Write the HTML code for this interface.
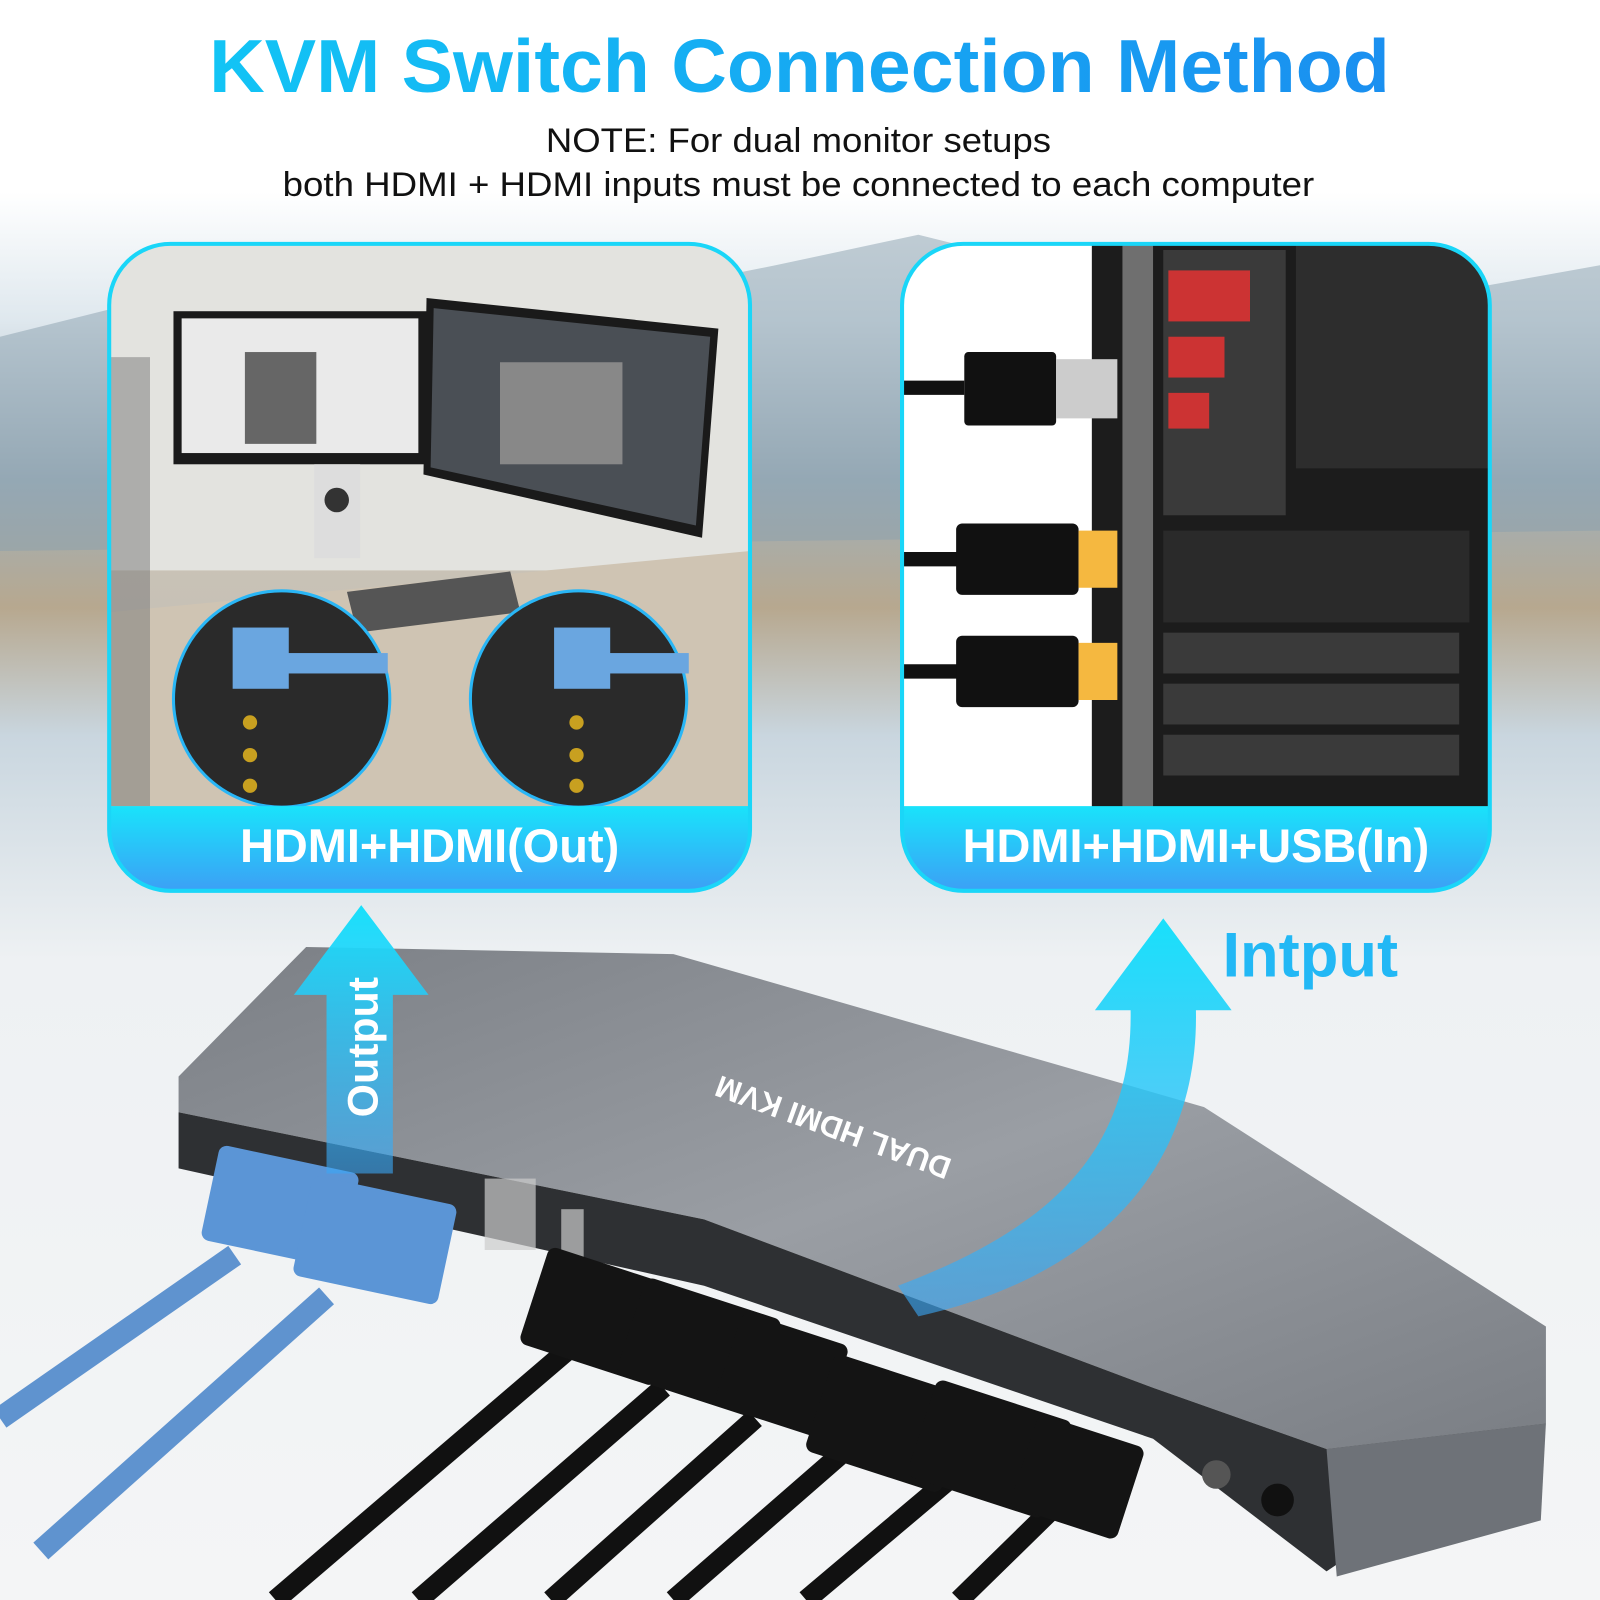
<!DOCTYPE html>
<html><head><meta charset="utf-8"><style>
html,body{margin:0;padding:0;width:1600px;height:1600px;overflow:hidden;background:#fff}
svg{display:block}
</style></head><body>
<svg width="1600" height="1600" viewBox="0 0 1568 1568" xmlns="http://www.w3.org/2000/svg" font-family="Liberation Sans, sans-serif">
<defs>
<linearGradient id="bg" x1="0" y1="0" x2="0" y2="1">
<stop offset="0" stop-color="#ffffff"/><stop offset="0.12" stop-color="#ffffff"/>
<stop offset="0.2" stop-color="#dfe8ee"/><stop offset="0.3" stop-color="#9fb0bb"/>
<stop offset="0.38" stop-color="#b7a88f"/><stop offset="0.46" stop-color="#c9d6df"/>
<stop offset="0.6" stop-color="#eef1f3"/><stop offset="1" stop-color="#f4f5f6"/></linearGradient>
<linearGradient id="tt" x1="0" y1="0" x2="1" y2="0"><stop offset="0" stop-color="#12c4f5"/><stop offset="1" stop-color="#1a8ff0"/></linearGradient>
<linearGradient id="band" x1="0" y1="0" x2="0" y2="1"><stop offset="0" stop-color="#19e3fb"/><stop offset="1" stop-color="#3f9af5"/></linearGradient>
<linearGradient id="arr" x1="0" y1="0" x2="0" y2="1"><stop offset="0" stop-color="#18e0fb"/><stop offset="1" stop-color="#3aa6f6" stop-opacity="0.6"/></linearGradient>
<linearGradient id="top" x1="0" y1="0" x2="1" y2="1"><stop offset="0" stop-color="#7b7f85"/><stop offset="0.5" stop-color="#9a9ea4"/><stop offset="1" stop-color="#7a7e84"/></linearGradient>
<linearGradient id="desk" x1="0" y1="0" x2="0" y2="1"><stop offset="0" stop-color="#dcdcd8"/><stop offset="0.5" stop-color="#c9c2b6"/><stop offset="1" stop-color="#b8b9b6"/></linearGradient>
<clipPath id="lp"><rect x="107" y="239" width="628" height="634" rx="60"/></clipPath>
<clipPath id="rp"><rect x="884" y="239" width="576" height="634" rx="60"/></clipPath>
</defs>
<rect width="1568" height="1568" fill="url(#bg)"/>
<path d="M0 330 L120 300 L260 330 L400 250 L560 300 L760 260 L900 230 L1100 280 L1250 250 L1400 290 L1568 260 L1568 520 L0 540Z" fill="#8aa0ad" opacity="0.5"/>
<text x="205" y="90" textLength="1157" lengthAdjust="spacingAndGlyphs" font-size="74" font-weight="bold" fill="url(#tt)">KVM Switch Connection Method</text>
<text x="535" y="149" textLength="495" lengthAdjust="spacingAndGlyphs" font-size="34" fill="#111">NOTE: For dual monitor setups</text>
<text x="277" y="192" textLength="1011" lengthAdjust="spacingAndGlyphs" font-size="34" fill="#111">both HDMI + HDMI inputs must be connected to each computer</text>

<!-- left panel -->
<g clip-path="url(#lp)">
<rect x="107" y="239" width="628" height="634" fill="url(#desk)"/>
<rect x="107" y="239" width="628" height="320" fill="#e3e3df"/>
<polygon points="107,600 735,540 735,790 107,790" fill="#cfc4b3"/>
<rect x="170" y="305" width="248" height="150" fill="#1a1a1a"/><rect x="178" y="312" width="232" height="132" fill="#eaeaea"/>
<rect x="240" y="345" width="70" height="90" fill="#666"/>
<polygon points="418,292 704,322 688,527 415,465" fill="#1a1a1a"/>
<polygon points="425,302 696,330 682,515 422,458" fill="#4a4f55"/>
<rect x="490" y="355" width="120" height="100" fill="#888"/>
<rect x="308" y="455" width="45" height="92" fill="#ddd"/><circle cx="330" cy="490" r="12" fill="#333"/>
<polygon points="340,580 500,560 510,600 350,620" fill="#555"/>
<rect x="107" y="350" width="40" height="440" fill="#777" opacity="0.5"/>
<circle cx="276" cy="685" r="106" fill="#2a2a2a" stroke="#29b6f6" stroke-width="3"/>
<circle cx="567" cy="685" r="106" fill="#2a2a2a" stroke="#29b6f6" stroke-width="3"/>
<rect x="228" y="615" width="55" height="60" fill="#6aa6e0"/><rect x="280" y="640" width="100" height="20" fill="#6aa6e0"/>
<rect x="543" y="615" width="55" height="60" fill="#6aa6e0"/><rect x="595" y="640" width="80" height="20" fill="#6aa6e0"/>
<g fill="#c8a020"><circle cx="245" cy="708" r="7"/><circle cx="245" cy="740" r="7"/><circle cx="245" cy="770" r="7"/><circle cx="565" cy="708" r="7"/><circle cx="565" cy="740" r="7"/><circle cx="565" cy="770" r="7"/></g>
<rect x="107" y="790" width="628" height="90" fill="url(#band)"/>
</g>
<rect x="107" y="239" width="628" height="634" rx="60" fill="none" stroke="#1ad6f8" stroke-width="4"/>
<text x="421" y="845" text-anchor="middle" font-size="46" font-weight="bold" fill="#fff">HDMI+HDMI(Out)</text>

<!-- right panel -->
<g clip-path="url(#rp)">
<rect x="884" y="239" width="576" height="634" fill="#fff"/>
<rect x="1070" y="239" width="390" height="560" fill="#1c1c1c"/>
<rect x="1100" y="239" width="30" height="560" fill="#6f6f6f"/>
<rect x="1270" y="239" width="190" height="220" fill="#2d2d2d"/>
<rect x="1140" y="245" width="120" height="260" fill="#3a3a3a"/>
<rect x="1145" y="265" width="80" height="50" fill="#c33"/><rect x="1145" y="330" width="55" height="40" fill="#c33"/><rect x="1145" y="385" width="40" height="35" fill="#c33"/>
<rect x="1140" y="520" width="300" height="90" fill="#2a2a2a"/>
<rect x="1140" y="620" width="290" height="40" fill="#3a3a3a"/><rect x="1140" y="670" width="290" height="40" fill="#3a3a3a"/><rect x="1140" y="720" width="290" height="40" fill="#3a3a3a"/>
<path d="M884 380 H945" stroke="#111" stroke-width="14"/><rect x="945" y="345" width="90" height="72" rx="4" fill="#111"/><rect x="1035" y="352" width="60" height="58" fill="#ccc"/>
<path d="M884 548 H940" stroke="#111" stroke-width="14"/><rect x="937" y="513" width="120" height="70" rx="6" fill="#111"/><rect x="1057" y="520" width="38" height="56" fill="#f5b840"/>
<path d="M884 658 H940" stroke="#111" stroke-width="14"/><rect x="937" y="623" width="120" height="70" rx="6" fill="#111"/><rect x="1057" y="630" width="38" height="56" fill="#f5b840"/>
<rect x="884" y="790" width="576" height="90" fill="url(#band)"/>
</g>
<rect x="884" y="239" width="576" height="634" rx="60" fill="none" stroke="#1ad6f8" stroke-width="4"/>
<text x="1172" y="845" text-anchor="middle" font-size="46" font-weight="bold" fill="#fff">HDMI+HDMI+USB(In)</text>

<!-- device -->
<polygon points="175,1055 300,928 660,935 1180,1085 1515,1300 1515,1395 1300,1420 1130,1360 690,1195 175,1090" fill="url(#top)"/>
<polygon points="175,1055 175,1145 690,1260 1130,1410 1300,1540 1515,1395 1300,1420 1130,1360 690,1195 175,1090" fill="#2e3033"/>
<polygon points="1300,1420 1515,1395 1510,1490 1310,1545" fill="#6e7278"/>
<rect x="475" y="1155" width="50" height="70" fill="#ccc" opacity="0.7"/>
<rect x="550" y="1185" width="22" height="55" fill="#ccc" opacity="0.7"/>
<circle cx="1192" cy="1445" r="14" fill="#555"/><circle cx="1252" cy="1470" r="16" fill="#111"/>
<text transform="translate(820,1095) rotate(200)" font-size="30" font-weight="bold" fill="#fff" text-anchor="middle">DUAL HDMI KVM</text>
<!-- cables -->
<g stroke="#5f93cf" stroke-width="22" fill="none"><path d="M230 1230 L0 1390"/><path d="M320 1270 L40 1520"/></g>
<rect x="205" y="1135" width="140" height="95" rx="8" fill="#5b95d6" transform="rotate(12 275 1180)"/>
<rect x="295" y="1165" width="145" height="100" rx="8" fill="#5b95d6" transform="rotate(12 365 1215)"/>
<g stroke="#111" stroke-width="20" fill="none">
<path d="M560 1320 L270 1568"/><path d="M650 1360 L410 1568"/><path d="M740 1390 L540 1568"/>
<path d="M830 1420 L660 1568"/><path d="M930 1450 L790 1568"/><path d="M1030 1480 L940 1568"/></g>
<g fill="#141414">
<rect x="520" y="1240" width="140" height="100" rx="8" transform="rotate(18 590 1290)"/>
<rect x="615" y="1270" width="140" height="100" rx="8" transform="rotate(18 685 1320)"/>
<rect x="710" y="1300" width="110" height="95" rx="8" transform="rotate(18 765 1350)"/>
<rect x="800" y="1345" width="140" height="100" rx="8" transform="rotate(18 870 1395)"/>
<rect x="900" y="1370" width="140" height="100" rx="8" transform="rotate(18 970 1420)"/>
<rect x="1000" y="1400" width="110" height="95" rx="8" transform="rotate(18 1055 1450)"/></g>
<!-- arrows -->
<polygon points="354,887 420,975 385,975 385,1150 320,1150 320,975 288,975" fill="url(#arr)"/>
<text transform="translate(370,1095) rotate(-90)" font-size="42" font-weight="bold" fill="#fff">Output</text>
<path d="M880 1260 C1040 1200 1110 1120 1108 990 L1073 990 L1140 900 L1207 990 L1172 990 C1175 1140 1080 1250 900 1290Z" fill="url(#arr)"/>
<text x="1198" y="957" font-size="62" font-weight="bold" fill="#22b8f5">Intput</text>
</svg>
</body></html>
